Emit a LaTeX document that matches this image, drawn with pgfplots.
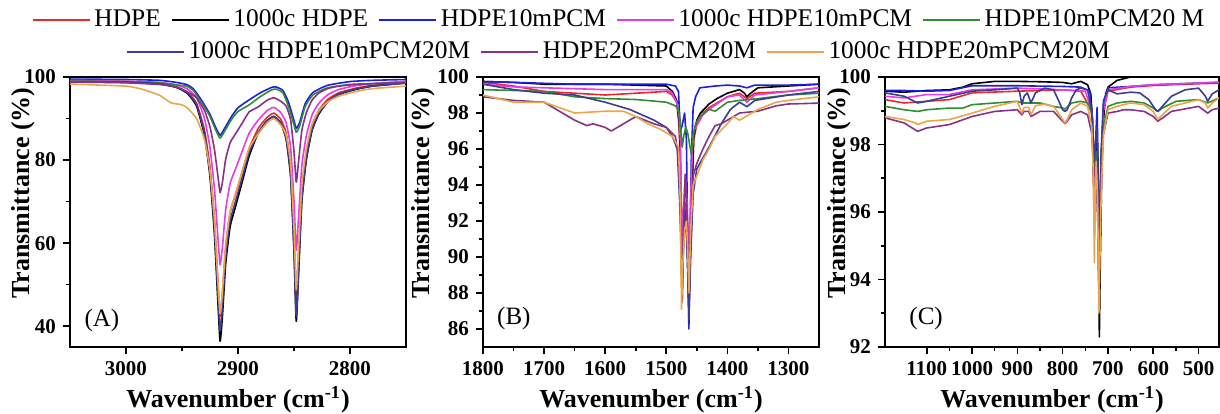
\documentclass[border=0pt]{standalone}
\usepackage{pgfplots}
\pgfplotsset{compat=1.18}
\usepackage{fontspec}
\setmainfont{Liberation Serif}
\definecolor{cRed}{RGB}{235,40,40}
\definecolor{cBlue}{RGB}{30,30,225}
\definecolor{cMag}{RGB}{230,60,230}
\definecolor{cGreen}{RGB}{50,140,50}
\definecolor{cNavy}{RGB}{60,60,150}
\definecolor{cPurp}{RGB}{135,50,135}
\definecolor{cOrg}{RGB}{235,165,75}
\pgfplotsset{
 panel/.style={scale only axis, height=135pt, x dir=reverse,
   axis line style={line width=0.9pt}, tick align=outside, xtick pos=bottom, ytick pos=left,
   major tick length=3.5pt, minor tick length=2pt, every tick/.style={black,line width=0.8pt},
   minor x tick num=1, minor y tick num=1,
   tick label style={font=\fontsize{10.5}{12}\selectfont\bfseries},
   /pgf/number format/assume math mode=true, /pgf/number format/1000 sep={},
   xlabel={Wavenumber (cm\textsuperscript{-1})}, ylabel={Transmittance (\%)},
   label style={font=\fontsize{13}{15}\selectfont\bfseries},
   xlabel style={at={(axis description cs:0.5,-0.196)}, anchor=center},
   legend image code/.code={\draw[#1] (0pt,0pt) -- (28.5pt,0pt);},
   legend style={draw=none, fill=none, anchor=center, font=\fontsize{12.7}{14}\selectfont,
     /tikz/every even column/.append style={column sep=3pt}},
   every axis plot/.append style={line width=0.8pt, line join=round},
 },
}
\begin{document}
\begin{tikzpicture}
\path[use as bounding box] (0,0) rectangle (610pt,206.5pt);
% ---------------- Panel A
\begin{axis}[panel, at={(35pt,33pt)}, anchor=south west, width=168pt,
  xmin=2750, xmax=3050, ymin=35, ymax=100, xtick={2800,2900,3000}, ytick={40,60,80,100},
  ylabel style={at={(axis description cs:-0.14,0.57)}, anchor=center},
  legend columns=5, legend style={at={(1.637,1.211)}},
  every axis plot/.append style={smooth, tension=0.3}]
\addplot[cRed] coordinates {(3050,98.8)(3000,98.7)(2970,98.3)(2955,97.6)(2945,96.3)(2937,93.7)(2930,87.3)(2925,78.3)(2921,65.6)(2918,51.1)(2916,42.4)(2914,47.5)(2911,59.2)(2907,67.4)(2902,71.9)(2896,77.4)(2890,82.8)(2882,87.6)(2874,90.3)(2868,91.3)(2862,89.9)(2857,86.5)(2853,78.4)(2850,62.2)(2848,47.1)(2846,56.8)(2843,73.0)(2839,82.0)(2834,88.3)(2828,91.9)(2820,94.6)(2810,96.2)(2795,97.3)(2780,98.0)(2750,98.7)};
\addlegendentry{HDPE}
\addplot[black] coordinates {(3050,99.0)(3000,98.8)(2970,98.3)(2955,97.5)(2945,96.0)(2937,93.0)(2930,86.0)(2925,76.0)(2921,62.0)(2918,46.0)(2916,36.4)(2914,42.0)(2911,55.0)(2907,64.0)(2902,69.0)(2896,75.0)(2890,81.0)(2882,86.5)(2874,89.5)(2868,90.5)(2862,89.0)(2857,85.0)(2853,76.0)(2850,58.0)(2848,41.2)(2846,52.0)(2843,70.0)(2839,80.0)(2834,87.0)(2828,91.0)(2820,94.0)(2810,95.8)(2795,97.0)(2780,97.8)(2750,98.6)};
\addlegendentry{1000c HDPE}
\addplot[cBlue] coordinates {(3050,99.5)(3000,99.4)(2970,99.2)(2955,98.7)(2946,98.2)(2940,97.2)(2934,95.0)(2930,93.3)(2925,91.0)(2920,87.9)(2916,86.0)(2912,87.6)(2906,90.4)(2900,92.6)(2890,94.5)(2880,96.2)(2870,97.5)(2866,97.6)(2860,96.8)(2855,94.0)(2850,89.5)(2848,87.6)(2845,89.0)(2840,93.6)(2833,96.3)(2820,98.0)(2800,98.9)(2780,99.2)(2750,99.4)};
\addlegendentry{HDPE10mPCM}
\addplot[cMag] coordinates {(3050,99.2)(3000,99.0)(2970,98.7)(2955,98.1)(2945,97.1)(2937,95.0)(2930,90.1)(2925,83.0)(2921,73.0)(2918,61.7)(2916,54.8)(2914,58.8)(2911,68.0)(2907,74.4)(2902,78.0)(2896,82.3)(2890,86.5)(2882,89.6)(2874,91.9)(2868,92.7)(2862,91.5)(2857,89.0)(2853,83.0)(2850,70.2)(2848,58.3)(2846,65.9)(2843,78.7)(2839,85.8)(2834,90.8)(2828,93.6)(2820,95.7)(2810,97.0)(2795,97.9)(2780,98.4)(2750,99.0)};
\addlegendentry{1000c HDPE10mPCM}
\addplot[cGreen] coordinates {(3050,99.0)(3000,98.9)(2970,98.6)(2955,98.1)(2946,97.8)(2940,96.8)(2934,94.5)(2930,92.8)(2925,90.5)(2920,87.3)(2916,85.3)(2912,86.9)(2906,89.7)(2900,91.7)(2890,93.3)(2880,95.3)(2870,96.9)(2866,97.1)(2860,96.2)(2855,93.0)(2850,88.5)(2848,86.7)(2845,88.1)(2840,92.9)(2833,95.7)(2820,97.4)(2800,98.2)(2780,98.4)(2750,98.6)};
\addlegendentry{HDPE10mPCM20 M}
\addplot[cNavy, forget plot] coordinates {(3050,98.9)(3000,98.8)(2970,98.4)(2955,97.6)(2945,96.2)(2937,93.3)(2930,86.6)(2925,77.0)(2921,63.5)(2918,48.2)(2916,38.9)(2914,44.3)(2911,56.8)(2907,65.4)(2902,70.2)(2896,76.0)(2890,81.8)(2882,86.6)(2874,89.5)(2868,90.5)(2862,89.0)(2857,85.3)(2853,76.5)(2850,58.8)(2848,42.4)(2846,53.0)(2843,70.6)(2839,80.4)(2834,87.3)(2828,91.2)(2820,94.1)(2810,95.9)(2795,97.1)(2780,97.8)(2750,98.5)};
\addplot[cPurp, forget plot] coordinates {(3050,98.8)(3000,98.6)(2970,98.2)(2955,97.6)(2945,96.4)(2937,95.0)(2930,92.0)(2925,88.0)(2921,82.5)(2918,76.3)(2916,72.2)(2914,74.5)(2911,80.2)(2907,84.2)(2902,86.4)(2896,89.0)(2890,91.6)(2882,92.8)(2874,94.4)(2868,95.0)(2862,94.2)(2857,93.0)(2853,89.7)(2850,82.0)(2848,74.7)(2846,79.4)(2843,87.1)(2839,91.4)(2834,94.4)(2828,96.1)(2820,97.2)(2810,97.8)(2795,98.2)(2780,98.4)(2750,98.7)};
\addplot[cOrg, forget plot] coordinates {(3050,98.3)(3000,97.8)(2985,97.0)(2970,95.6)(2960,93.8)(2950,93.3)(2945,92.5)(2937,90.0)(2930,85.0)(2925,77.5)(2921,65.5)(2918,51.0)(2916,43.0)(2914,48.0)(2911,59.5)(2907,67.6)(2902,72.1)(2896,77.5)(2890,82.9)(2882,86.3)(2874,89.0)(2868,90.0)(2862,88.5)(2857,86.0)(2853,79.1)(2850,63.5)(2848,48.8)(2846,58.2)(2843,73.9)(2839,82.6)(2834,88.5)(2828,91.8)(2820,94.0)(2810,95.4)(2795,96.5)(2780,97.2)(2750,97.8)};
\node[font=\fontsize{12.5}{14}\selectfont] at (rel axis cs:0.095,0.1) {(A)};
\end{axis}
% ---------------- Panel B
\begin{axis}[panel, at={(241.5pt,33pt)}, anchor=south west, width=168pt,
  xmin=1250, xmax=1800, ymin=85, ymax=100, xtick={1300,1400,...,1800}, ytick={86,88,...,100},
  ylabel style={at={(axis description cs:-0.179,0.57)}, anchor=center},
  legend columns=3, legend style={at={(0.408,1.093)}}]
\addplot[cRed, forget plot] coordinates {(1800,99.7)(1750,99.5)(1700,99.2)(1650,99.1)(1600,99.0)(1550,99.1)(1500,99.2)(1490,99.0)(1483,98.6)(1479,97.3)(1477,95.5)(1475,91.0)(1474,89.0)(1472,91.0)(1469,93.0)(1466,91.5)(1463,88.0)(1460,92.0)(1457,95.0)(1455,96.5)(1450,97.4)(1440,98.0)(1430,98.3)(1400,98.9)(1380,99.1)(1368,98.8)(1355,99.1)(1300,99.2)(1250,99.4)};
\addplot[black, forget plot] coordinates {(1800,99.75)(1750,99.7)(1700,99.6)(1650,99.6)(1600,99.6)(1550,99.55)(1500,99.5)(1490,99.2)(1483,98.7)(1479,97.5)(1477,95.8)(1475,90.0)(1474,87.5)(1472,90.5)(1469,92.5)(1466,91.0)(1463,87.0)(1460,91.0)(1457,94.5)(1455,96.7)(1450,97.6)(1444,98.0)(1430,98.5)(1417,98.8)(1400,99.1)(1380,99.3)(1372,99.1)(1368,98.9)(1362,99.1)(1350,99.4)(1300,99.5)(1250,99.6)};
\addplot[cBlue, forget plot] coordinates {(1800,99.75)(1750,99.7)(1700,99.65)(1650,99.6)(1600,99.6)(1550,99.6)(1500,99.6)(1485,99.5)(1480,99.2)(1477,97.0)(1474,97.3)(1470,98.0)(1467,96.5)(1465,91.0)(1463,86.0)(1461,90.5)(1459,95.5)(1456,98.3)(1452,98.9)(1445,99.4)(1420,99.5)(1400,99.55)(1380,99.5)(1368,99.4)(1355,99.55)(1300,99.55)(1250,99.6)};
\addplot[cMag, forget plot] coordinates {(1800,99.6)(1750,99.45)(1700,99.4)(1650,99.35)(1600,99.3)(1550,99.3)(1500,99.3)(1490,99.1)(1483,98.6)(1479,97.8)(1477,96.5)(1475,92.5)(1474,90.5)(1472,92.5)(1469,94.5)(1466,93.0)(1463,90.0)(1460,93.5)(1457,96.0)(1455,97.0)(1450,97.3)(1440,97.9)(1430,98.2)(1400,98.9)(1380,99.0)(1368,98.6)(1355,99.0)(1300,99.2)(1250,99.4)};
\addplot[cGreen, forget plot] coordinates {(1800,99.3)(1750,99.25)(1700,99.2)(1650,98.9)(1600,98.8)(1550,98.75)(1500,98.6)(1485,98.4)(1480,98.2)(1477,97.5)(1474,96.1)(1471,96.8)(1468,97.2)(1465,96.9)(1462,96.3)(1459,95.7)(1456,96.8)(1452,97.4)(1445,97.8)(1430,98.2)(1420,98.1)(1400,98.6)(1380,98.7)(1350,98.8)(1300,99.0)(1250,99.1)};
\addplot[cNavy] coordinates {(1800,99.6)(1750,99.3)(1700,99.1)(1650,99.0)(1600,98.6)(1560,98.2)(1540,97.9)(1520,97.6)(1500,97.2)(1490,96.7)(1482,96.0)(1478,93.0)(1475,89.5)(1474,88.5)(1472,90.5)(1469,92.5)(1466,90.5)(1463,86.5)(1460,90.0)(1456,93.5)(1450,94.9)(1440,95.5)(1430,96.1)(1410,97.4)(1395,98.2)(1380,98.6)(1368,98.35)(1355,98.7)(1300,99.0)(1250,99.2)};
\addlegendentry{1000c HDPE10mPCM20M}
\addplot[cPurp] coordinates {(1800,98.9)(1750,98.7)(1700,98.6)(1660,97.8)(1650,97.6)(1630,97.3)(1620,97.4)(1600,97.2)(1590,97.0)(1570,97.4)(1550,97.8)(1520,97.4)(1500,97.2)(1485,96.7)(1480,95.5)(1477,93.5)(1475,89.0)(1474,87.5)(1472,91.5)(1469,94.6)(1466,92.5)(1463,88.5)(1460,91.5)(1456,94.5)(1450,95.2)(1440,96.0)(1430,96.7)(1420,97.3)(1410,97.4)(1400,97.6)(1380,98.0)(1350,98.1)(1320,98.4)(1300,98.5)(1250,98.55)};
\addlegendentry{HDPE20mPCM20M}
\addplot[cOrg] coordinates {(1800,99.0)(1750,98.6)(1700,98.6)(1650,98.0)(1600,98.1)(1570,98.1)(1550,97.8)(1530,97.4)(1510,97.1)(1490,96.7)(1480,96.1)(1477,93.0)(1475,87.1)(1473,89.5)(1470,91.5)(1467,92.0)(1465,90.5)(1463,88.0)(1460,91.5)(1456,94.0)(1450,94.5)(1440,95.4)(1430,96.0)(1420,96.7)(1400,97.4)(1390,97.8)(1380,97.6)(1370,97.8)(1350,98.2)(1320,98.6)(1300,98.7)(1250,98.9)};
\addlegendentry{1000c HDPE20mPCM20M}
\node[font=\fontsize{12.5}{14}\selectfont] at (rel axis cs:0.092,0.107) {(B)};
\end{axis}
% ---------------- Panel C
\begin{axis}[panel, at={(442.5pt,33pt)}, anchor=south west, width=167pt,
  xmin=455, xmax=1192, ymin=92, ymax=100, xtick={500,600,...,1100}, ytick={92,94,...,100},
  ylabel style={at={(axis description cs:-0.138,0.57)}, anchor=center}]
\addplot[cRed] coordinates {(1192,99.33)(1150,99.23)(1100,99.28)(1050,99.33)(1000,99.53)(900,99.58)(800,99.62)(760,99.58)(736,99.0)(732,97.0)(730,95.3)(727,97.2)(725,97.0)(722,95.5)(720,93.5)(718,94.5)(715,97.0)(710,99.0)(700,99.58)(650,99.7)(600,99.75)(500,99.8)(455,99.82)};
\addplot[black] coordinates {(1192,99.58)(1150,99.55)(1100,99.6)(1050,99.62)(1020,99.7)(1000,99.8)(950,99.87)(900,99.87)(850,99.86)(800,99.84)(780,99.8)(760,99.87)(745,99.77)(738,99.5)(734,98.7)(731,96.5)(729,95.8)(727,97.8)(724,98.3)(721,95.0)(719,92.3)(717,94.5)(714,97.0)(710,98.7)(705,99.5)(700,99.7)(680,99.9)(650,100.0)(640,100.05)(600,100.2)(455,100.3)};
\addplot[cBlue] coordinates {(1192,99.6)(1150,99.6)(1100,99.58)(1050,99.6)(1000,99.74)(900,99.74)(800,99.72)(760,99.7)(740,99.58)(734,98.7)(731,97.0)(729,96.8)(727,98.2)(724,99.1)(722,97.5)(720,95.0)(718,96.0)(715,97.5)(710,99.2)(700,99.68)(650,99.72)(600,99.77)(500,99.82)(455,99.84)};
\addplot[cMag] coordinates {(1192,99.43)(1150,99.38)(1100,99.48)(1050,99.48)(1000,99.62)(900,99.67)(800,99.62)(750,99.58)(736,99.0)(732,97.5)(730,96.5)(727,97.8)(725,97.5)(722,96.0)(720,94.0)(718,95.0)(715,97.5)(710,99.0)(700,99.62)(650,99.72)(600,99.77)(500,99.82)(455,99.85)};
\addplot[cGreen] coordinates {(1192,99.13)(1150,99.03)(1120,98.98)(1100,99.03)(1050,99.08)(1020,99.08)(1000,99.18)(950,99.23)(900,99.28)(890,99.23)(870,99.23)(850,99.23)(820,99.13)(800,99.08)(795,99.05)(780,99.23)(760,99.28)(745,99.23)(736,98.93)(732,98.0)(730,97.0)(727,97.8)(725,97.5)(722,96.5)(720,94.5)(718,95.5)(715,97.8)(710,98.5)(700,99.13)(680,99.23)(650,99.28)(620,99.23)(600,99.08)(590,98.98)(580,99.08)(550,99.28)(500,99.33)(480,99.23)(455,99.38)};
\addplot[cNavy] coordinates {(1192,99.53)(1150,99.43)(1120,99.23)(1100,99.28)(1050,99.43)(1000,99.58)(950,99.62)(900,99.67)(895,99.55)(890,99.18)(885,99.43)(878,99.53)(870,99.23)(860,99.53)(840,99.67)(820,99.62)(810,99.33)(800,99.03)(795,98.98)(790,99.03)(780,99.38)(770,99.62)(760,99.67)(745,99.62)(736,99.0)(732,98.0)(730,97.5)(727,98.2)(724,98.5)(722,97.0)(720,95.0)(718,96.0)(715,97.8)(710,99.3)(700,99.62)(680,99.5)(650,99.55)(630,99.53)(610,99.33)(595,99.03)(590,98.98)(580,99.13)(560,99.43)(530,99.62)(500,99.67)(485,99.43)(480,99.28)(470,99.5)(455,99.62)};
\addplot[cPurp] coordinates {(1192,98.79)(1150,98.64)(1120,98.39)(1100,98.49)(1050,98.59)(1000,98.83)(950,98.98)(900,99.03)(890,98.88)(885,98.98)(875,98.98)(870,98.83)(850,98.98)(820,98.98)(800,98.69)(795,98.62)(790,98.69)(780,98.88)(760,98.98)(745,98.88)(736,98.34)(732,97.5)(730,96.5)(727,97.3)(725,97.0)(722,95.5)(720,94.0)(718,95.0)(715,97.3)(710,98.3)(700,98.93)(680,98.98)(665,99.03)(650,99.03)(620,98.98)(600,98.83)(590,98.69)(580,98.78)(560,98.98)(500,99.13)(485,98.98)(480,98.93)(470,99.03)(455,99.08)};
\addplot[cOrg] coordinates {(1192,98.83)(1150,98.74)(1125,98.64)(1120,98.59)(1100,98.69)(1050,98.74)(1000,98.93)(950,99.13)(900,99.28)(890,98.93)(885,99.1)(875,99.1)(870,98.88)(860,99.15)(840,99.2)(820,99.13)(800,98.74)(795,98.64)(790,98.74)(780,99.03)(760,99.23)(745,99.13)(736,98.54)(732,97.0)(730,94.5)(728,96.5)(726,97.5)(723,96.5)(720,93.0)(718,94.5)(715,96.5)(710,98.3)(700,99.03)(680,99.13)(650,99.23)(620,99.18)(600,98.98)(590,98.74)(580,98.88)(560,99.13)(500,99.33)(485,99.23)(480,99.08)(470,99.23)(455,99.38)};
\node[font=\fontsize{12.5}{14}\selectfont] at (rel axis cs:0.123,0.107) {(C)};
\end{axis}
\end{tikzpicture}
\end{document}
